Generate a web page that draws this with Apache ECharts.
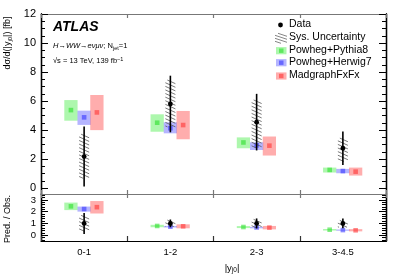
<!DOCTYPE html>
<html><head><meta charset="utf-8">
<script src="https://cdn.jsdelivr.net/npm/echarts@6/dist/echarts.min.js"></script>
<style>html,body{margin:0;padding:0;background:#fff}#c{width:407px;height:278px}</style>
</head><body><div id="c"></div>
<script>
// ---------- data ----------
const categories = ['0-1', '1-2', '2-3', '3-4.5'];
const mainTicks = [0, 2, 4, 6, 8, 10, 12];
const ratioTicks = [0, 1, 2, 3];

// main panel: observed data
const dataValue   = [2.18, 5.80, 4.55, 2.76];
const dataTotLow  = [0.12, 3.85, 2.60, 1.60];
const dataTotHigh = [4.25, 7.75, 6.50, 3.90];
const dataSysLow  = [0.68, 4.22, 2.78, 1.84];
const dataSysHigh = [3.72, 7.45, 6.08, 3.45];

// main panel: predictions (center, low, high)
const pythiaVal  = [5.38, 4.51, 3.15, 1.26];
const pythiaLow  = [4.65, 3.89, 2.75, 1.08];
const pythiaHigh = [6.07, 5.09, 3.50, 1.42];
const herwigVal  = [4.88, 4.13, 2.95, 1.18];
const herwigLow  = [4.36, 3.78, 2.63, 1.03];
const herwigHigh = [5.34, 4.54, 3.16, 1.33];
const mgVal      = [5.22, 4.35, 2.93, 1.14];
const mgLow      = [4.00, 3.37, 2.25, 0.87];
const mgHigh     = [6.42, 5.32, 3.56, 1.42];

// ratio panel: Pred./Obs.
const rDataVal   = [1, 1, 1, 1];
const rDataTotLow  = [0.10, 0.67, 0.57, 0.58];
const rDataTotHigh = [1.88, 1.33, 1.42, 1.41];
const rDataSysLow  = [0.32, 0.73, 0.62, 0.67];
const rDataSysHigh = [1.68, 1.28, 1.34, 1.25];
const rPythiaVal  = [2.45, 0.78, 0.69, 0.46];
const rPythiaLow  = [2.13, 0.67, 0.60, 0.39];
const rPythiaHigh = [2.77, 0.88, 0.77, 0.52];
const rHerwigVal  = [2.22, 0.72, 0.65, 0.43];
const rHerwigLow  = [2.00, 0.65, 0.58, 0.37];
const rHerwigHigh = [2.43, 0.78, 0.70, 0.48];
const rMgVal      = [2.38, 0.75, 0.64, 0.41];
const rMgLow      = [1.84, 0.58, 0.49, 0.32];
const rMgHigh     = [2.90, 0.92, 0.78, 0.51];

// ---------- styles ----------
const FONT = '"Liberation Sans", Arial, Helvetica, sans-serif';
const COLORS = {
  pythia: {light: 'rgba(40,235,40,0.38)', dark: 'rgba(30,220,30,0.55)'},
  herwig: {light: 'rgba(60,60,255,0.38)', dark: 'rgba(40,40,255,0.55)'},
  mg:     {light: 'rgba(255,50,50,0.40)', dark: 'rgba(255,40,40,0.55)'}
};
const Y_PER_GRID = 4;

function zip(a, b, c) { return a.map((v, i) => [i, v, b[i], c[i]]); }

function boxSeries(name, vals, lows, highs, offset, col, gi) {
  return {
    type: 'custom', name: name, xAxisIndex: gi * 2, yAxisIndex: gi * Y_PER_GRID,
    data: zip(vals, lows, highs), z: 2,
    renderItem: function (params, api) {
      const c = api.coord([api.value(0), api.value(1)]);
      const lo = api.coord([api.value(0), api.value(2)]);
      const hi = api.coord([api.value(0), api.value(3)]);
      const bw = api.size([1, 0])[0];
      const w = bw * 0.154;
      const cx = c[0] + offset * bw;
      return {type: 'group', children: [
        {type: 'rect', shape: {x: cx - w / 2, y: hi[1], width: w, height: lo[1] - hi[1]}, style: {fill: col.light}},
        {type: 'rect', shape: {x: cx - 2.3, y: c[1] - 2.3, width: 4.6, height: 4.6}, style: {fill: col.dark}}
      ]};
    }
  };
}

function hatchLines(x0, y0, w, h, spacing, dy, stroke) {
  const out = [];
  for (let t = y0 - dy; t < y0 + h; t += spacing) {
    let ax = x0, ay = t, bx = x0 + w, by = t + dy;
    if (ay < y0) { const f = (y0 - ay) / dy; ax = x0 + f * w; ay = y0; }
    if (by > y0 + h) { const f = (by - (y0 + h)) / dy; bx = x0 + w - f * w; by = y0 + h; }
    if (bx <= ax) continue;
    out.push({type: 'line', shape: {x1: ax, y1: ay, x2: bx, y2: by}, style: {stroke: stroke, lineWidth: 0.8}});
  }
  return out;
}

function hatchSeries(lows, highs, gi) {
  return {
    type: 'custom', name: 'Sys. Uncertainty', xAxisIndex: gi * 2, yAxisIndex: gi * Y_PER_GRID,
    data: lows.map((v, i) => [i, v, highs[i]]), z: 3,
    renderItem: function (params, api) {
      const lo = api.coord([api.value(0), api.value(1)]);
      const hi = api.coord([api.value(0), api.value(2)]);
      const bw = api.size([1, 0])[0];
      const w = bw * 0.116;
      return {type: 'group', children: hatchLines(lo[0] - w / 2, hi[1], w, lo[1] - hi[1], 3.6, 4.5, '#555')};
    }
  };
}

function dataSeries(vals, lows, highs, gi) {
  return {
    type: 'custom', name: 'Data', xAxisIndex: gi * 2, yAxisIndex: gi * Y_PER_GRID,
    data: zip(vals, lows, highs), z: 4,
    renderItem: function (params, api) {
      const c = api.coord([api.value(0), api.value(1)]);
      const lo = api.coord([api.value(0), api.value(2)]);
      const hi = api.coord([api.value(0), api.value(3)]);
      return {type: 'group', children: [
        {type: 'line', shape: {x1: c[0], y1: hi[1], x2: c[0], y2: lo[1]}, style: {stroke: '#000', lineWidth: 1.6}},
        {type: 'circle', shape: {cx: c[0], cy: c[1], r: 2.4}, style: {fill: '#000'}}
      ]};
    }
  };
}

function range(a, b, s) { const r = []; for (let v = a; v <= b + 1e-9; v += s) r.push(+v.toFixed(3)); return r; }

function xAxes(gi, isBottomPanel) {
  const grey = '#777';
  return [
    {type: 'category', gridIndex: gi, data: categories, position: 'bottom', boundaryGap: true,
     axisLine: {show: true, onZero: false, lineStyle: {color: isBottomPanel ? '#000' : grey, width: 1.2}},
     axisTick: {show: true, inside: true, length: isBottomPanel ? 5 : 4, lineStyle: {color: isBottomPanel ? '#333' : grey, width: 1.2}},
     axisLabel: {show: isBottomPanel, color: '#000', fontSize: 9.5, fontFamily: FONT, margin: 6},
     splitLine: {show: false}},
    {type: 'category', gridIndex: gi, data: categories, position: 'top', boundaryGap: true,
     axisLine: {show: true, onZero: false, lineStyle: {color: grey, width: 1.2}},
     axisTick: {show: true, inside: true, length: 4, lineStyle: {color: grey, width: 1.2}},
     axisLabel: {show: false}, splitLine: {show: false}}
  ];
}

function yAxes(gi, min, max, majors, minors, labelSize) {
  const base = {type: 'value', gridIndex: gi, min: min, max: max, splitLine: {show: false}};
  const line = {show: true, onZero: false, lineStyle: {color: '#000', width: 1.3}};
  return [
    Object.assign({}, base, {position: 'left', axisLine: line,
      axisTick: {show: true, inside: true, length: 7, customValues: majors, lineStyle: {color: '#000', width: 1}},
      axisLabel: {show: true, customValues: majors, color: '#000', fontSize: labelSize, fontFamily: FONT, margin: 5}}),
    Object.assign({}, base, {position: 'left', axisLine: line,
      axisTick: {show: true, inside: true, length: 4, customValues: minors, lineStyle: {color: '#000', width: 1}},
      axisLabel: {show: false}}),
    Object.assign({}, base, {position: 'right', axisLine: line,
      axisTick: {show: true, inside: true, length: 7, customValues: majors, lineStyle: {color: '#000', width: 1}},
      axisLabel: {show: false}}),
    Object.assign({}, base, {position: 'right', axisLine: line,
      axisTick: {show: true, inside: true, length: 4, customValues: minors, lineStyle: {color: '#000', width: 1}},
      axisLabel: {show: false}})
  ];
}

// legend drawn as graphic
const legendX = 289;
const legendRows = [25, 38.3, 50.7, 62.7, 76];
const legendNames = ['Data', 'Sys. Uncertainty', 'Powheg+Pythia8', 'Powheg+Herwig7', 'MadgraphFxFx'];
const legendCols = [null, null, COLORS.pythia, COLORS.herwig, COLORS.mg];
const graphics = [];
legendNames.forEach((n, i) => {
  const y = legendRows[i];
  graphics.push({type: 'text', left: legendX, top: y - 6.5, style: {text: n, fill: '#000', font: '10.5px ' + FONT}});
  if (i === 0) graphics.push({type: 'circle', shape: {cx: 280.5, cy: y, r: 2.4}, style: {fill: '#000'}});
  else if (i === 1) graphics.push({type: 'group', children: hatchLines(275, y - 5, 12, 10, 3, 4, '#666')});
  else {
    graphics.push({type: 'rect', shape: {x: 276, y: y - 3.6, width: 10.5, height: 7.2}, style: {fill: legendCols[i].light}});
    graphics.push({type: 'rect', shape: {x: 279, y: y - 2.2, width: 4.5, height: 4.4}, style: {fill: legendCols[i].dark}});
  }
});
graphics.push(
  {type: 'text', left: 53, top: 20, style: {text: 'ATLAS', fill: '#000', font: 'italic bold 14px ' + FONT}},
  {type: 'text', left: 53, top: 42, style: {
    text: '{i|H\u2192WW\u2192e\u03BD\u03BC\u03BD}; N{s|jet}=1', fill: '#000', font: '7.5px ' + FONT,
    rich: {i: {fontStyle: 'italic', fontSize: 7.5, fontFamily: FONT}, s: {fontSize: 5.5, fontFamily: FONT, verticalAlign: 'bottom', padding: [4, 0, 0, 0]}}}},
  {type: 'text', left: 53, top: 56, style: {
    text: '\u221As = 13 TeV, 139 fb{p|\u22121}', fill: '#000', font: '7.5px ' + FONT,
    rich: {p: {fontSize: 5.5, fontFamily: FONT, verticalAlign: 'top', padding: [0, 0, 4, 0]}}}},
  {type: 'text', x: 8, y: 43, rotation: Math.PI / 2, style: {
    text: 'd\u03C3/d(|y{s|j0}|) [fb]', fill: '#000', font: '9px ' + FONT, align: 'center', verticalAlign: 'middle',
    rich: {s: {fontSize: 6, fontFamily: FONT, padding: [4, 0, 0, 0]}}}},
  {type: 'text', x: 8, y: 219, rotation: Math.PI / 2, style: {
    text: 'Pred. / Obs.', fill: '#000', font: '9px ' + FONT, align: 'center', verticalAlign: 'middle'}},
  {type: 'text', x: 232, y: 268, style: {
    text: '|y{s|j0}|', fill: '#000', font: '9.5px ' + FONT, align: 'center', verticalAlign: 'middle',
    rich: {s: {fontSize: 6.5, fontFamily: FONT, padding: [5, 0, 0, 0]}}}}
);

const chart = echarts.init(document.getElementById('c'), null, {renderer: 'canvas'});
chart.setOption({
  animation: false,
  backgroundColor: '#fff',
  grid: [
    {left: 41, right: 21, top: 14, height: 180},
    {left: 41, right: 21, top: 194, height: 47}
  ],
  xAxis: [].concat(xAxes(0, false), xAxes(1, true)),
  yAxis: [].concat(
    yAxes(0, -0.4, 12, mainTicks, range(0, 12, 0.5), 11),
    yAxes(1, -0.5, 3.5, ratioTicks, range(-0.4, 3.4, 0.2), 9.5)
  ),
  series: [
    boxSeries('Powheg+Pythia8', pythiaVal, pythiaLow, pythiaHigh, -0.153, COLORS.pythia, 0),
    boxSeries('Powheg+Herwig7', herwigVal, herwigLow, herwigHigh, 0, COLORS.herwig, 0),
    boxSeries('MadgraphFxFx', mgVal, mgLow, mgHigh, 0.148, COLORS.mg, 0),
    hatchSeries(dataSysLow, dataSysHigh, 0),
    dataSeries(dataValue, dataTotLow, dataTotHigh, 0),
    boxSeries('Powheg+Pythia8', rPythiaVal, rPythiaLow, rPythiaHigh, -0.153, COLORS.pythia, 1),
    boxSeries('Powheg+Herwig7', rHerwigVal, rHerwigLow, rHerwigHigh, 0, COLORS.herwig, 1),
    boxSeries('MadgraphFxFx', rMgVal, rMgLow, rMgHigh, 0.148, COLORS.mg, 1),
    hatchSeries(rDataSysLow, rDataSysHigh, 1),
    dataSeries(rDataVal, rDataTotLow, rDataTotHigh, 1)
  ],
  graphic: graphics
});
</script></body></html>
